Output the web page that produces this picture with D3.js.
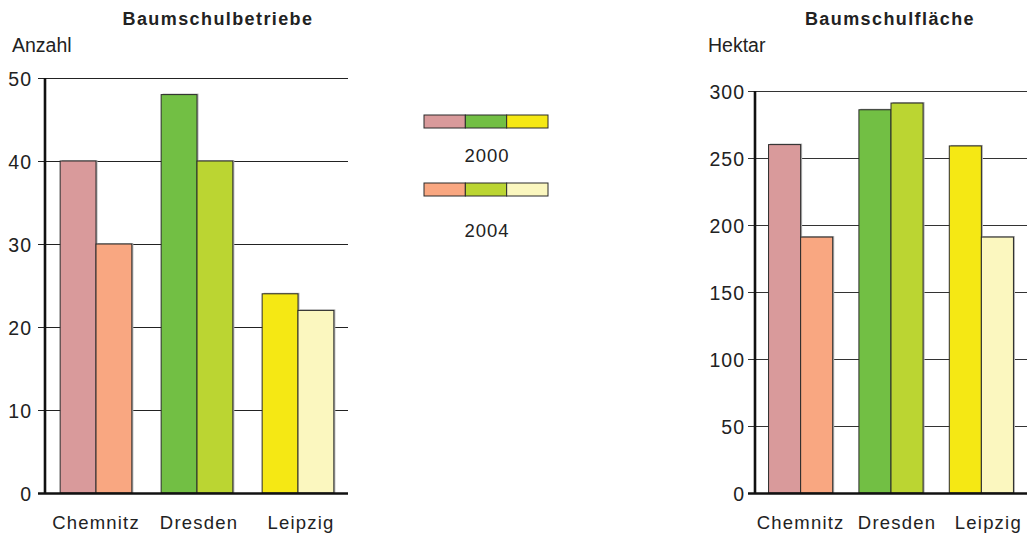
<!DOCTYPE html>
<html><head><meta charset="utf-8">
<script src="https://cdn.jsdelivr.net/npm/d3@7"></script>
<style>
html,body{margin:0;padding:0;background:#fff;}
svg{display:block;font-family:"Liberation Sans",Arial,sans-serif;}
</style></head>
<body><svg id="c" width="1027" height="536"></svg>
<script>
const categories = ["Chemnitz","Dresden","Leipzig"];
const years = ["2000","2004"];
const betriebe2000 = [40,48,24];
const betriebe2004 = [30,40,22];
const flaeche2000 = [260,286,259];
const flaeche2004 = [191,291,191];
const colors2000 = ["#d99a9b","#72bf44","#f5e814"];
const colors2004 = ["#f9a781","#bbd532","#fbf7bf"];
const ticksBetriebe = [0,10,20,30,40,50];
const ticksFlaeche = [0,50,100,150,200,250,300];

const svg = d3.select("#c");

function chart(opt){
  const g = svg.append("g");
  const x = d3.scaleBand().domain(categories).range([opt.x0, opt.x1]).paddingInner(0.29).paddingOuter(0.15);
  const y = d3.scaleLinear().domain([0, opt.max]).range([493, opt.top]);
  const gridW = opt.gridEnd - opt.x0;
  const ax = g.append("g").attr("transform",`translate(${opt.x0},0)`)
    .call(d3.axisLeft(y).tickValues(opt.ticks).tickSize(-gridW).tickPadding(opt.pad).tickFormat(d3.format("d")));
  ax.select(".domain").remove();
  ax.selectAll(".tick line").attr("x1",-7).attr("stroke",opt.grid).attr("stroke-width",1.1);
  ax.selectAll(".tick text").attr("font-size",19.5).attr("fill","#222").attr("letter-spacing","1px")
    .attr("font-family","'Liberation Sans',Arial,sans-serif").attr("dy","0.36em");
  const sub = d3.scaleBand().domain(years).range([0, x.bandwidth()]);
  const rows = categories.map((c,i)=>[
    {c, yr:"2000", v:opt.v2000[i], col:colors2000[i]},
    {c, yr:"2004", v:opt.v2004[i], col:colors2004[i]}]).flat();
  g.selectAll("rect.sh").data(rows).enter().append("rect").attr("class","sh")
    .attr("x",d=>x(d.c)+sub(d.yr)+1.5).attr("y",d=>y(d.v)-1)
    .attr("width",sub.bandwidth()).attr("height",d=>493-y(d.v)+1)
    .attr("fill","#b0b0b0");
  g.selectAll("rect.bar").data(rows).enter().append("rect").attr("class","bar")
    .attr("x",d=>x(d.c)+sub(d.yr)).attr("y",d=>y(d.v))
    .attr("width",sub.bandwidth()).attr("height",d=>493-y(d.v))
    .attr("fill",d=>d.col).attr("stroke","#2a2a2a").attr("stroke-width",1);
  g.append("line").attr("x1",opt.x0).attr("x2",opt.x0).attr("y1",y(opt.max)).attr("y2",494)
    .attr("stroke","#111").attr("stroke-width",2.6);
  g.append("line").attr("x1",opt.x0-7).attr("x2",opt.gridEnd).attr("y1",493.5).attr("y2",493.5)
    .attr("stroke","#111").attr("stroke-width",2.6);
  g.selectAll("text.cat").data(categories).enter().append("text").attr("class","cat")
    .attr("x",(d,i)=>x(d)+x.bandwidth()/2+opt.labOff[i]).attr("y",529)
    .attr("text-anchor","middle").attr("font-size",18.5).attr("letter-spacing","1.2px")
    .attr("fill","#222").text(d=>d);
  g.append("text").attr("x",opt.titleX).attr("y",25).attr("text-anchor","middle")
    .attr("font-size",18).attr("font-weight","bold").attr("letter-spacing","1.4px")
    .attr("fill","#222").text(opt.title);
  g.append("text").attr("x",opt.unitX).attr("y",52).attr("font-size",19.5)
    .attr("fill","#222").text(opt.unit);
}

chart({x0:45, x1:349, gridEnd:348, top:78, max:50, ticks:ticksBetriebe, pad:13, grid:"#222",
  v2000:betriebe2000, v2004:betriebe2004, title:"Baumschulbetriebe", titleX:218, unit:"Anzahl", unitX:12, labOff:[0,2,3]});
chart({x0:755, x1:1027, gridEnd:1027, top:91, max:300, ticks:ticksFlaeche, pad:10, grid:"#333",
  v2000:flaeche2000, v2004:flaeche2004, title:"Baumschulfläche", titleX:890, unit:"Hektar", unitX:708, labOff:[0,6,7]});

const lg = svg.append("g");
const lx = d3.scaleBand().domain(categories).range([424,548]);
[[colors2000,115,"2000",162],[colors2004,183,"2004",237]].forEach(([cols,yy,lab,ty])=>{
  lg.selectAll(null).data(categories).enter().append("rect")
    .attr("x",d=>lx(d)).attr("y",yy).attr("width",lx.bandwidth()).attr("height",13)
    .attr("fill",(d,i)=>cols[i]).attr("stroke","#2a2a2a").attr("stroke-width",1);
  lg.append("text").attr("x",487).attr("y",ty).attr("text-anchor","middle")
    .attr("font-size",18.5).attr("letter-spacing","1px").attr("fill","#222").text(lab);
});
</script></body></html>
